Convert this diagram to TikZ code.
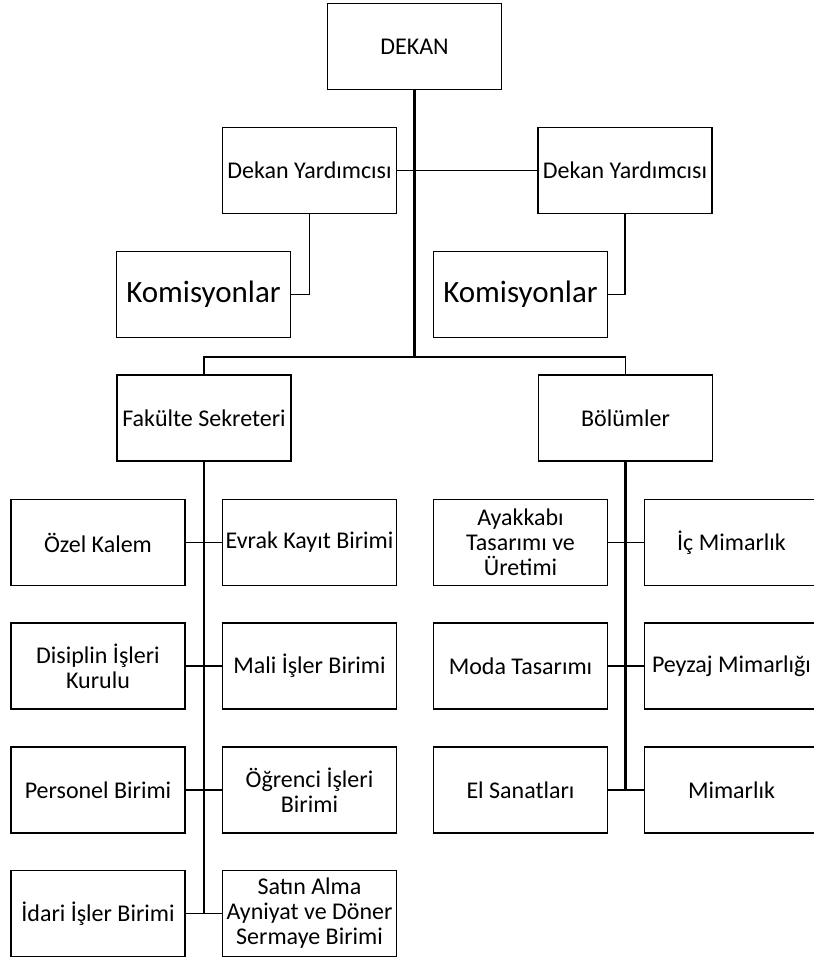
\documentclass[tikz,border=0pt]{standalone}
\usepackage{fontspec}
\setmainfont{Carlito}

\tikzset{
  birim/.style={draw, line width=1.8pt, minimum width=174pt, minimum height=86pt,
    inner sep=1pt, align=center, font=\fontsize{24}{25}\selectfont},
  kurul/.style={birim, font=\fontsize{31}{33}\selectfont},
  link/.style={line width=1.8pt},
  trunk/.style={line width=2.3pt}
}

\begin{document}
\begin{tikzpicture}[x=1pt, y=-1pt]
      \useasboundingbox (0,0) rectangle (814,962);
      % top
      \node [birim] (dekan) at (414.5,46.5) {DEKAN};
      \node [birim] (dyl) at (309.5,170.5) {Dekan Yardımcısı};
      \node [birim] (dyr) at (625,170.5) {Dekan Yardımcısı};
      \node [kurul] (koml) at (203.5,294.5) {Komisyonlar};
      \node [kurul] (komr) at (520.5,294.5) {Komisyonlar};
      \coordinate (bus) at (414.5,357);
      \draw [trunk] (dekan.south) -- (bus);
      \draw [link] (dyl.east) -- (dyr.west);
      \draw [link] (dyl.south) |- (koml.east);
      \draw [link] (dyr.south) |- (komr.east);
      % second level
      \node [birim] (fak) at (204,418) {Fakülte Sekreteri};
      \node [birim] (bol) at (625.5,418) {Bölümler};
      \draw [link] (fak.north) |- (bus) -| (bol.north);
      % fakulte sekreteri
      \node [birim] (ozel) at (98,542.5) {Özel Kalem};
      \node [birim] (evrak) at (309.5,542.5) {Evrak Kayıt Birimi};
      \node [birim] (disiplin) at (98,666) {Disiplin İşleri\\Kurulu};
      \node [birim] (mali) at (309.5,666) {Mali İşler Birimi};
      \node [birim] (personel) at (98,790) {Personel Birimi};
      \node [birim] (ogrenci) at (309.5,790) {Öğrenci İşleri\\Birimi};
      \node [birim] (idari) at (98,913.5) {İdari İşler Birimi};
      \node [birim] (satin) at (309.5,913.5) {Satın Alma\\Ayniyat ve Döner\\Sermaye Birimi};
      \draw [trunk] (fak.south) -- (fak |- idari);
      \draw [link] (ozel.east) -- (evrak.west);
      \draw [link] (disiplin.east) -- (mali.west);
      \draw [link] (personel.east) -- (ogrenci.west);
      \draw [link] (idari.east) -- (satin.west);
      % bolumler
      \node [birim] (ayakkabi) at (520.5,542.5) {Ayakkabı\\Tasarımı ve\\Üretimi};
      \node [birim] (icmim) at (731.5,542.5) {İç Mimarlık};
      \node [birim] (moda) at (520.5,666) {Moda Tasarımı};
      \node [birim] (peyzaj) at (731.5,666) {Peyzaj Mimarlığı};
      \node [birim] (el) at (520.5,790) {El Sanatları};
      \node [birim] (mimarlik) at (731.5,790) {Mimarlık};
      \draw [trunk] (bol.south) -- (bol |- el);
      \draw [link] (ayakkabi.east) -- (icmim.west);
      \draw [link] (moda.east) -- (peyzaj.west);
      \draw [link] (el.east) -- (mimarlik.west);
    \end{tikzpicture}
\end{document}
